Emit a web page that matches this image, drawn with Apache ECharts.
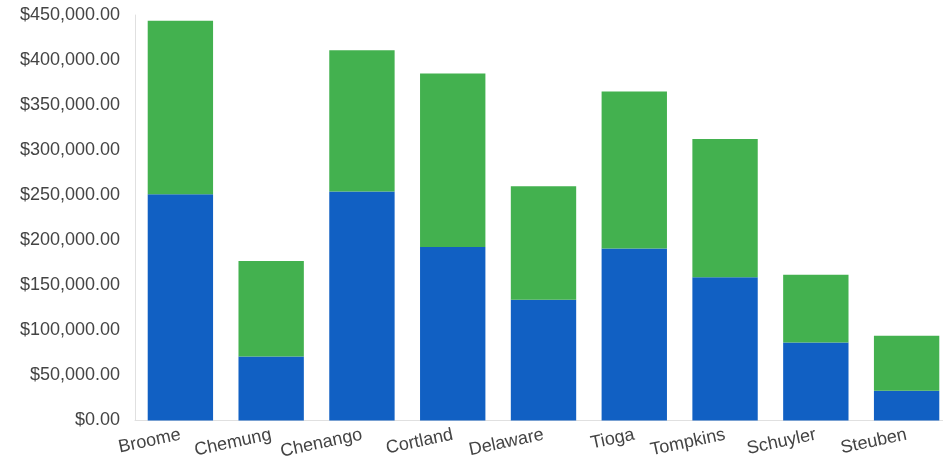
<!DOCTYPE html>
<html>
<head>
<meta charset="utf-8">
<script src="https://cdn.jsdelivr.net/npm/echarts@6/dist/echarts.min.js"></script>
<style>
html,body{margin:0;padding:0;background:#fff;}
#chart{width:943px;height:466px;}
</style>
</head>
<body>
<div id="chart"></div>
<script>
const categories = ['Broome','Chemung','Chenango','Cortland','Delaware','Tioga','Tompkins','Schuyler','Steuben'];
const blueValues = [251000, 71000, 254000, 192500, 134000, 191000, 159000, 86500, 33000];
const greenValues = [192500, 106000, 157000, 192500, 126000, 174000, 153500, 75200, 61000];
const yTicks = [0, 50000, 100000, 150000, 200000, 250000, 300000, 350000, 400000, 450000];

function money(v){
  const s = Math.round(v).toString().replace(/\B(?=(\d{3})+(?!\d))/g, ',');
  return '$' + s + '.00';
}

const chart = echarts.init(document.getElementById('chart'), null, {renderer:'canvas'});
chart.setOption({
  animation:false,
  backgroundColor:'#fff',
  grid:{left:135, top:15, width:817, height:405.5, containLabel:false, outerBoundsMode:'none'},
  xAxis:{
    type:'category',
    data:categories,
    axisLine:{show:true, lineStyle:{color:'#e0e0e0', width:1}},
    axisTick:{show:false},
    axisLabel:{rotate:12, margin:14, color:'#444', fontSize:18, fontFamily:'Liberation Sans, Arial, sans-serif', interval:0}
  },
  yAxis:{
    type:'value',
    min:yTicks[0],
    max:yTicks[yTicks.length-1],
    interval:50000,
    axisLine:{show:true, lineStyle:{color:'#e0e0e0', width:1}},
    axisTick:{show:false},
    splitLine:{show:false},
    axisLabel:{margin:15, color:'#444', fontSize:18, fontFamily:'Liberation Sans, Arial, sans-serif', formatter:money}
  },
  series:[
    {type:'bar', stack:'total', data:blueValues, barWidth:'72%', itemStyle:{color:'#1160c3'}},
    {type:'bar', stack:'total', data:greenValues, barWidth:'72%', itemStyle:{color:'#43b14f'}}
  ]
});
</script>
</body>
</html>
